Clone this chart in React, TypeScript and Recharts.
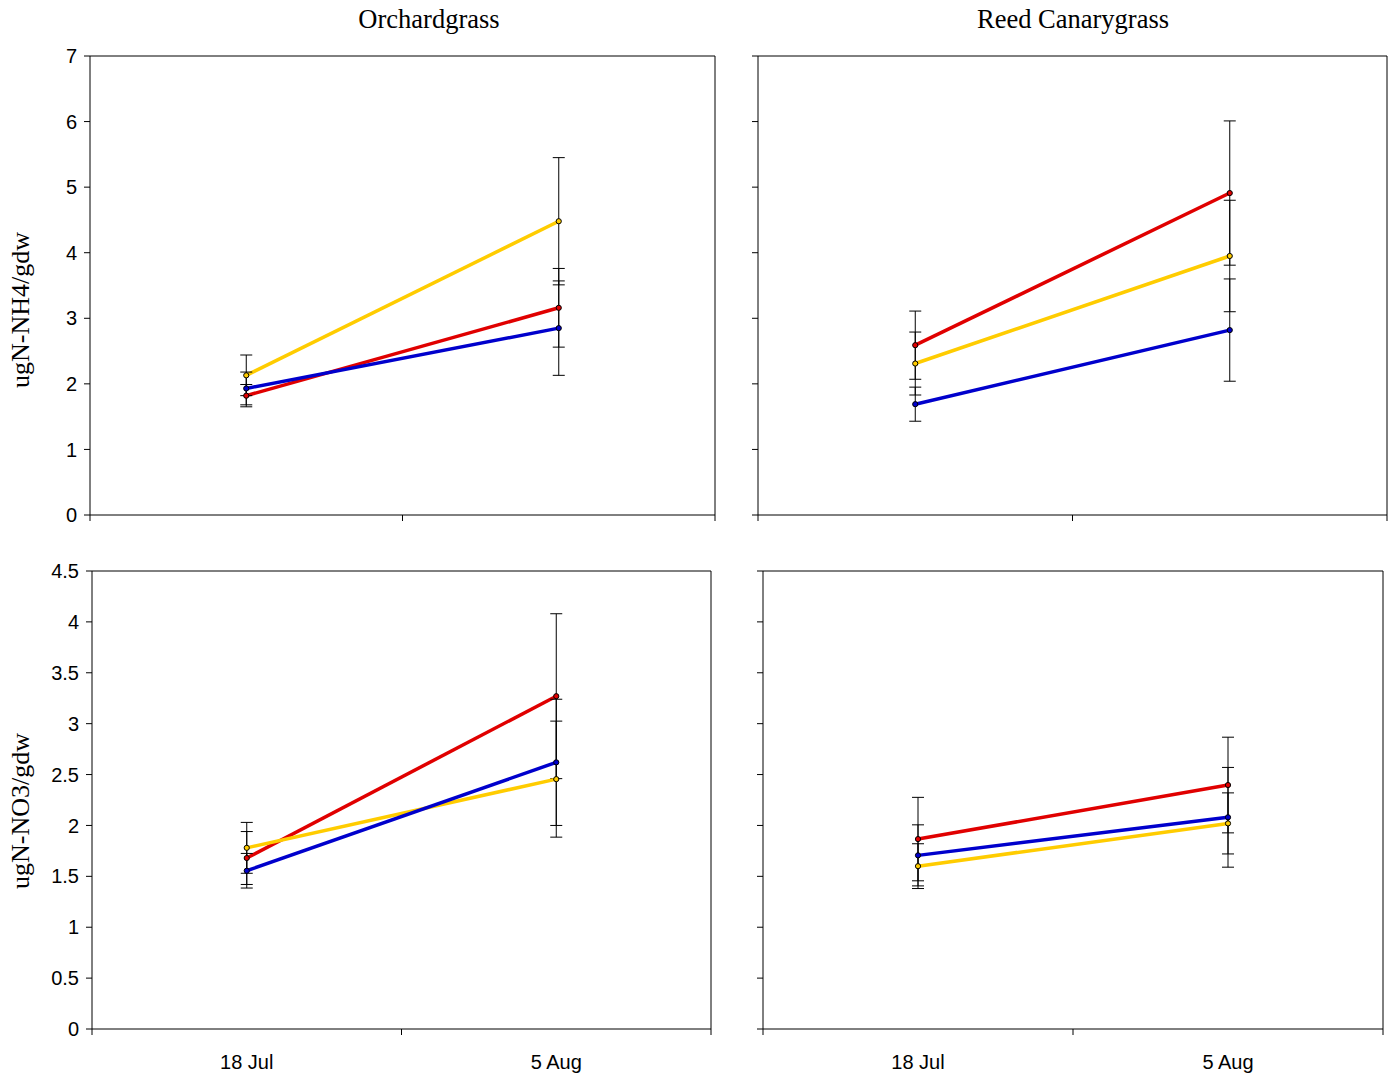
import React from 'react';
import { LineChart, Line, XAxis, YAxis, ErrorBar, ReferenceLine } from 'recharts';

const dates = ['18 Jul', '5 Aug'];

// Orchardgrass NH4
const orchNH4Red = [1.82, 3.16];
const orchNH4RedErr = [0.17, 0.6];
const orchNH4Yellow = [2.13, 4.48];
const orchNH4YellowErr = [0.31, 0.97];
const orchNH4Blue = [1.93, 2.85];
const orchNH4BlueErr = [0.25, 0.72];

// Reed Canarygrass NH4
const reedNH4Red = [2.59, 4.91];
const reedNH4RedErr = [0.52, 1.1];
const reedNH4Yellow = [2.31, 3.95];
const reedNH4YellowErr = [0.48, 0.85];
const reedNH4Blue = [1.69, 2.82];
const reedNH4BlueErr = [0.26, 0.78];

// Orchardgrass NO3
const orchNO3Red = [1.68, 3.27];
const orchNO3RedErr = [0.26, 0.81];
const orchNO3Yellow = [1.78, 2.455];
const orchNO3YellowErr = [0.25, 0.57];
const orchNO3Blue = [1.555, 2.62];
const orchNO3BlueErr = [0.17, 0.62];

// Reed Canarygrass NO3
const reedNO3Red = [1.866, 2.397];
const reedNO3RedErr = [0.41, 0.47];
const reedNO3Yellow = [1.6, 2.02];
const reedNO3YellowErr = [0.22, 0.3];
const reedNO3Blue = [1.706, 2.08];
const reedNO3BlueErr = [0.3, 0.49];

const nh4Ticks = [0, 1, 2, 3, 4, 5, 6, 7];
const no3Ticks = [0, 0.5, 1, 1.5, 2, 2.5, 3, 3.5, 4, 4.5];
const xTicks = [0, 0.5, 1, 1.5, 2];

const RED = '#E00000';
const YELLOW = '#FFCC00';
const BLUE = '#0000CC';

const SANS = '"Liberation Sans", Arial, sans-serif';
const SERIF = '"Liberation Serif", "Times New Roman", serif';

function buildRows(red: number[], redErr: number[], yellow: number[], yellowErr: number[], blue: number[], blueErr: number[]) {
  return dates.map((d, i) => ({
    date: d,
    pos: i + 0.5,
    red: red[i],
    redErr: redErr[i],
    yellow: yellow[i],
    yellowErr: yellowErr[i],
    blue: blue[i],
    blueErr: blueErr[i],
  }));
}

const XTick = (props: any) => {
  const { x, y, payload, showLabel } = props;
  const v = payload.value;
  if (Math.abs(v - Math.round(v)) < 1e-9) {
    return <line x1={x} x2={x} y1={y} y2={y + 6} stroke="#000" strokeWidth={1} />;
  }
  if (!showLabel) return <g />;
  const idx = Math.round(v - 0.5);
  return (
    <text x={x} y={y + 40} textAnchor="middle" fontFamily={SANS} fontSize={20} fill="#000">
      {dates[idx]}
    </text>
  );
};

const EmptyTick = () => <g />;

type PanelProps = {
  plotLeft: number;
  plotTop: number;
  plotW: number;
  plotH: number;
  rows: any[];
  yMax: number;
  yTicks: number[];
  showYLabels: boolean;
  showXLabels: boolean;
};

const Panel = ({ plotLeft, plotTop, plotW, plotH, rows, yMax, yTicks, showYLabels, showXLabels }: PanelProps) => {
  const yAxisW = 80;
  const top = 10;
  const right = 10;
  const xAxisH = 50;
  const width = plotW + yAxisW + right;
  const height = plotH + top + xAxisH;
  const dot = (color: string) => ({ r: 2.6, fill: color, stroke: '#000', strokeWidth: 1 });
  const series = [
    { key: 'red', color: RED },
    { key: 'yellow', color: YELLOW },
    { key: 'blue', color: BLUE },
  ];
  return (
    <div style={{ position: 'absolute', left: plotLeft - yAxisW, top: plotTop - top, width, height }}>
      <LineChart width={width} height={height} data={rows} margin={{ top, right, left: 0, bottom: 0 }}>
        <XAxis
          dataKey="pos"
          type="number"
          domain={[0, 2]}
          ticks={xTicks}
          interval={0}
          height={xAxisH}
          tickLine={false}
          tickSize={0}
          tickMargin={0}
          axisLine={{ stroke: '#000', strokeWidth: 1 }}
          tick={<XTick showLabel={showXLabels} />}
        />
        <YAxis
          type="number"
          domain={[0, yMax]}
          ticks={yTicks}
          interval={0}
          width={yAxisW}
          tickSize={6}
          tickMargin={7}
          tickLine={{ stroke: '#000', strokeWidth: 1 }}
          axisLine={{ stroke: '#000', strokeWidth: 1 }}
          tick={showYLabels ? { fontFamily: SANS, fontSize: 20, fill: '#000' } : <EmptyTick />}
          allowDataOverflow
        />
        <ReferenceLine y={yMax} stroke="#000" strokeWidth={1} ifOverflow="extendDomain" />
        <ReferenceLine x={2} stroke="#000" strokeWidth={1} ifOverflow="extendDomain" />
        {series.map((s) => (
          <Line
            key={s.key}
            dataKey={s.key}
            type="linear"
            stroke={s.color}
            strokeWidth={3.5}
            dot={dot(s.color)}
            activeDot={false}
            isAnimationActive={false}
          >
            <ErrorBar dataKey={s.key + 'Err'} direction="y" width={6} stroke="#000" strokeWidth={1} />
          </Line>
        ))}
      </LineChart>
    </div>
  );
};

export default function App() {
  const tl = buildRows(orchNH4Red, orchNH4RedErr, orchNH4Yellow, orchNH4YellowErr, orchNH4Blue, orchNH4BlueErr);
  const tr = buildRows(reedNH4Red, reedNH4RedErr, reedNH4Yellow, reedNH4YellowErr, reedNH4Blue, reedNH4BlueErr);
  const bl = buildRows(orchNO3Red, orchNO3RedErr, orchNO3Yellow, orchNO3YellowErr, orchNO3Blue, orchNO3BlueErr);
  const br = buildRows(reedNO3Red, reedNO3RedErr, reedNO3Yellow, reedNO3YellowErr, reedNO3Blue, reedNO3BlueErr);
  return (
    <div style={{ position: 'absolute', left: 0, top: 0, width: 1395, height: 1078, background: '#fff' }}>
      <Panel plotLeft={90} plotTop={56} plotW={625} plotH={459} rows={tl} yMax={7} yTicks={nh4Ticks} showYLabels showXLabels={false} />
      <Panel plotLeft={758} plotTop={56} plotW={629} plotH={459} rows={tr} yMax={7} yTicks={nh4Ticks} showYLabels={false} showXLabels={false} />
      <Panel plotLeft={92} plotTop={571} plotW={619} plotH={458} rows={bl} yMax={4.5} yTicks={no3Ticks} showYLabels showXLabels />
      <Panel plotLeft={763} plotTop={571} plotW={620} plotH={458} rows={br} yMax={4.5} yTicks={no3Ticks} showYLabels={false} showXLabels />
      <svg width={1395} height={1078} style={{ position: 'absolute', left: 0, top: 0, pointerEvents: 'none' }}>
        <text x={429} y={28} textAnchor="middle" fontFamily={SERIF} fontSize={26.5} fill="#000">Orchardgrass</text>
        <text x={1073} y={28} textAnchor="middle" fontFamily={SERIF} fontSize={26.5} fill="#000">Reed Canarygrass</text>
        <text x={29} y={310} textAnchor="middle" fontFamily={SERIF} fontSize={26} fill="#000" transform="rotate(-90 29 310)">ugN-NH4/gdw</text>
        <text x={29} y={811} textAnchor="middle" fontFamily={SERIF} fontSize={26} fill="#000" transform="rotate(-90 29 811)">ugN-NO3/gdw</text>
      </svg>
    </div>
  );
}
